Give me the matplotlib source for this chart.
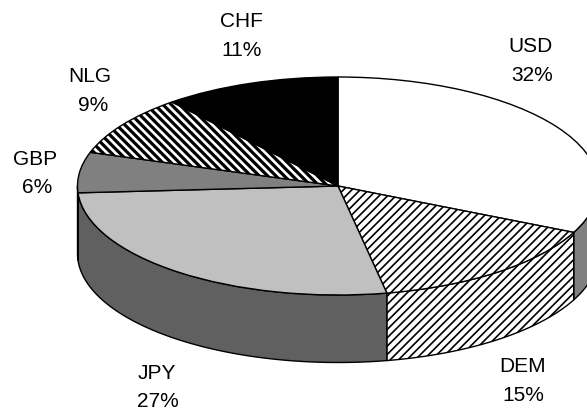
import matplotlib
matplotlib.use("Agg")
import matplotlib.pyplot as plt
import numpy as np

labels = ["USD", "DEM", "JPY", "GBP", "NLG", "CHF"]
values = [32, 15, 27, 6, 9, 11]
top_colors = ["#ffffff", "#ffffff", "#c0c0c0", "#808080", "#ffffff", "#000000"]
side_colors = ["#808080", "#ffffff", "#606060", "#404040", "#ffffff", "#000000"]
hatches = [None, "////", None, None, "\\\\\\\\", None]
side_hatches = [None, "////", None, None, None, None]

# label positions in pixels (baselines)
name_x = [530, 523, 157, 35, 90, 241]
pct_x = [532, 523, 158, 37, 93, 242]
name_y = [52, 372, 379, 165, 82, 27]
pct_y = [81, 401, 407, 193, 111, 56]

W, H = 587, 409
cx, cy = 338, 186
rx, ry = 260.5, 109
depth = 67.5 / ry

plt.rcParams["font.family"] = ["Liberation Sans", "DejaVu Sans"]
fig = plt.figure(figsize=(W / 100, H / 100), dpi=100)
ax = fig.add_axes([0, 0, 1, 1])

# wall of the pie, front half only
ends = 90 - np.cumsum(values) * 3.6
starts = np.concatenate(([90], ends[:-1]))
for a0, a1, col, h in zip(starts, ends, side_colors, side_hatches):
    lo = max(a1, -180)
    hi = min(a0, 0)
    if lo >= hi:
        continue
    t = np.radians(np.linspace(hi, lo, 80))
    xs = np.concatenate((np.cos(t), np.cos(t[::-1])))
    ys = np.concatenate((np.sin(t), np.sin(t[::-1]) - depth))
    p = ax.fill(xs, ys, facecolor=col, edgecolor="black", linewidth=1.0, hatch=h, zorder=1)[0]
    p._hatch_linewidth = 1.2

wedges, _ = ax.pie(values, startangle=90, counterclock=False, colors=top_colors,
                   hatch=hatches, wedgeprops=dict(edgecolor="black", linewidth=1.0))
for w in wedges:
    w.set_zorder(2)
wedges[1]._hatch_linewidth = 1.2
wedges[4]._hatch_linewidth = 2.3

ax.set_aspect("auto")
ax.set_xlim(-cx / rx, (W - cx) / rx)
ax.set_ylim((cy - H) / ry, cy / ry)
ax.axis("off")

for i, name in enumerate(labels):
    ax.text((name_x[i] - cx) / rx, (cy - name_y[i]) / ry, name, ha="center", va="baseline",
            fontsize=15, color="black", zorder=3)
    ax.text((pct_x[i] - cx) / rx, (cy - pct_y[i]) / ry, f"{values[i]}%", ha="center", va="baseline",
            fontsize=15, color="black", zorder=3)

fig.savefig("out.png", dpi=100)
